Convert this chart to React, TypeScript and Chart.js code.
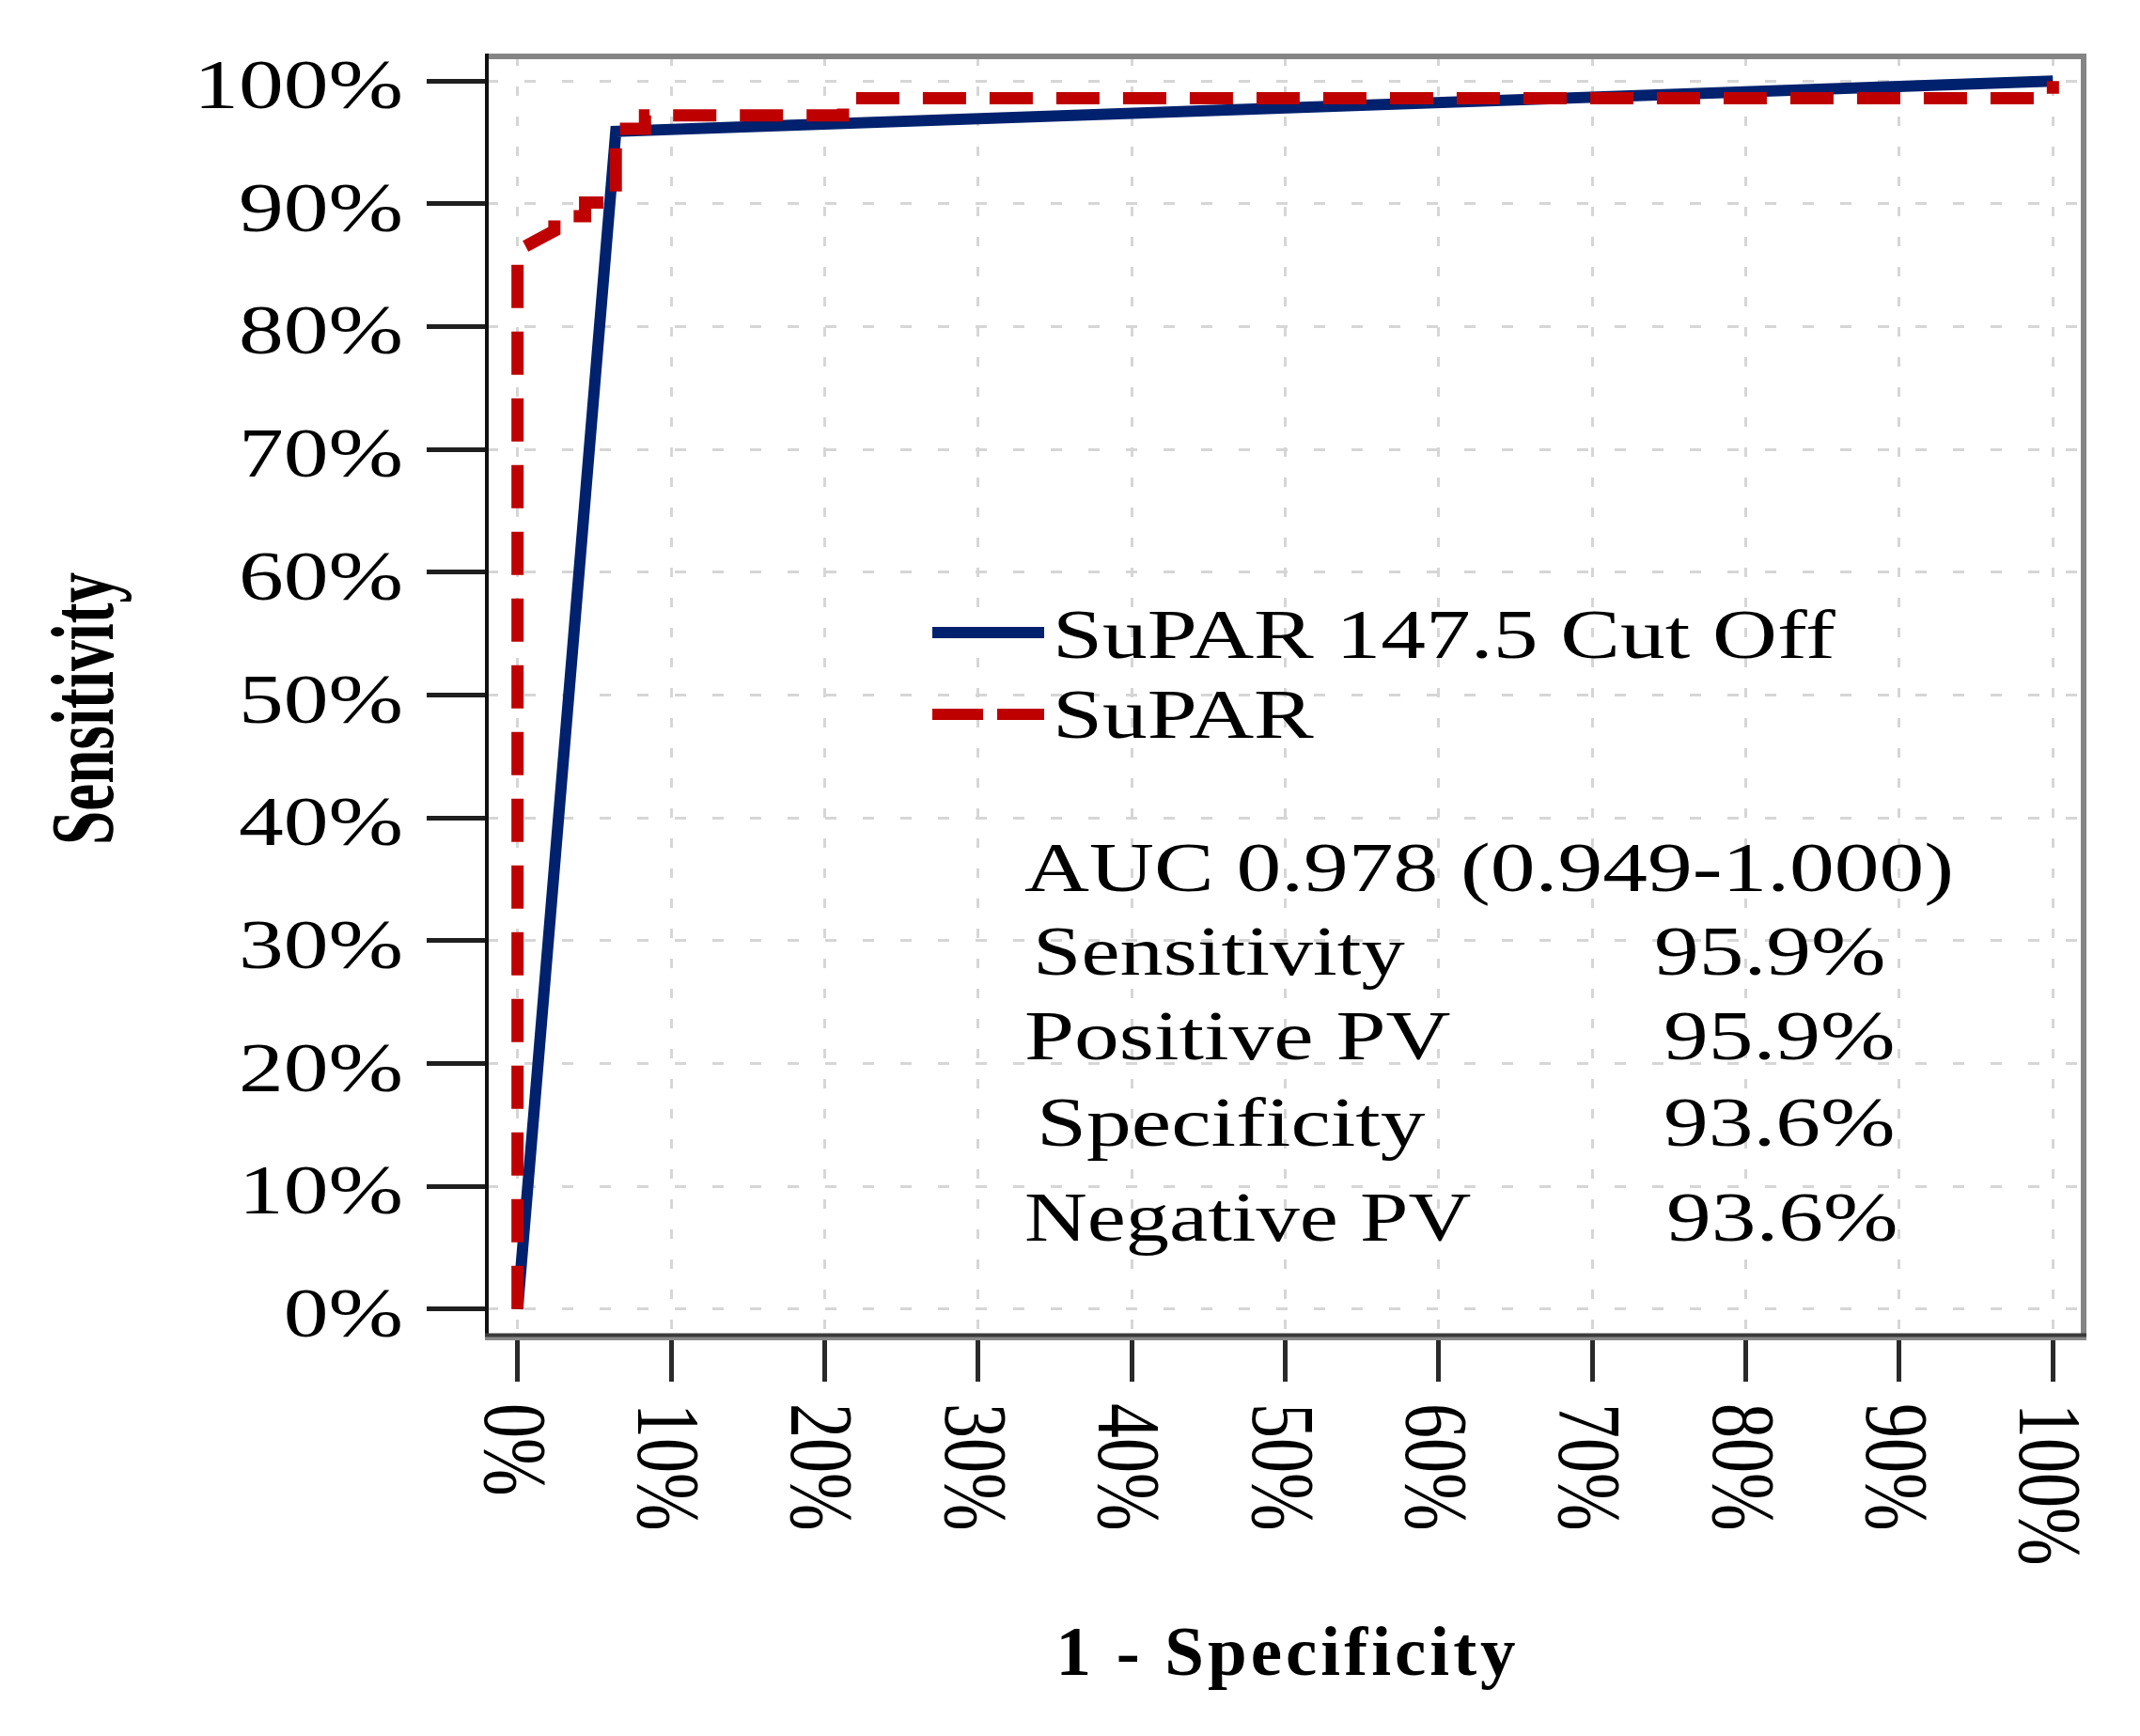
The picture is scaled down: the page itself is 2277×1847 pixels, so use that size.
import React, { useEffect, useRef } from "react";
import { Chart, registerables } from "chart.js";

Chart.register(...registerables);

// ---- data ----
const cutoffFpr = [0, 6.4, 100];
const cutoffTpr = [0, 95.9, 100];
const suparFpr = [0, 0, 2.4, 2.4, 4.4, 4.4, 6.4, 6.4, 8.3, 8.3, 21.2, 21.2, 100, 100];
const suparTpr = [0, 86.2, 87.8, 89.0, 89.0, 90.1, 90.1, 96.1, 96.1, 97.2, 97.2, 98.6, 98.6, 100];
const tickValues = [0, 10, 20, 30, 40, 50, 60, 70, 80, 90, 100];
const tickLabels = ["0%", "10%", "20%", "30%", "40%", "50%", "60%", "70%", "80%", "90%", "100%"];
const seriesNames = ["SuPAR 147.5 Cut Off", "SuPAR"];
const aucText = "AUC 0.978 (0.949-1.000)";
const statLabels = ["Sensitivity", "Positive PV", "Specificity", "Negative PV"];
const statValues = ["95.9%", "95.9%", "93.6%", "93.6%"];
const xTitle = "1 - Specificity";
const yTitle = "Sensitivity";

const BLUE = "#00216e";
const RED = "#bf0000";
const SERIF = '"Liberation Serif", "Times New Roman", serif';
const SX = 1.29;

type TextOpts = {
  font: string;
  sx?: number;
  sy?: number;
  rot?: number;
  align?: CanvasTextAlign;
  spacing?: string;
};

function drawText(ctx: CanvasRenderingContext2D, text: string, x: number, y: number, o: TextOpts) {
  ctx.save();
  ctx.translate(x, y);
  ctx.scale(o.sx ?? 1, o.sy ?? 1);
  if (o.rot) ctx.rotate(o.rot);
  ctx.font = o.font;
  ctx.textAlign = o.align ?? "left";
  ctx.textBaseline = "alphabetic";
  ctx.fillStyle = "#000";
  (ctx as any).letterSpacing = o.spacing ?? "0px";
  ctx.fillText(text, 0, 0);
  ctx.restore();
}

function line(ctx: CanvasRenderingContext2D, x1: number, y1: number, x2: number, y2: number, color: string, w: number, dash: number[] = []) {
  ctx.save();
  ctx.strokeStyle = color;
  ctx.lineWidth = w;
  ctx.setLineDash(dash);
  ctx.lineCap = "butt";
  ctx.beginPath();
  ctx.moveTo(x1, y1);
  ctx.lineTo(x2, y2);
  ctx.stroke();
  ctx.restore();
}

const decorPlugin = {
  id: "decor",
  afterDraw(chart: any) {
    const ctx: CanvasRenderingContext2D = chart.ctx;
    const { left, right, top, bottom } = chart.chartArea;
    const xs = chart.scales.x;
    const ys = chart.scales.y;

    // frame
    line(ctx, left - 2, top, right + 3, top, "#858585", 6);
    line(ctx, right, top - 3, right, bottom + 6, "#858585", 6);
    line(ctx, left, top - 3, left, bottom + 2, "#111111", 4);
    line(ctx, left - 2, bottom + 5, right + 3, bottom + 5, "#8a8a8a", 4);
    line(ctx, left - 2, bottom + 1.5, right + 3, bottom + 1.5, "#3a3a3a", 4);

    const fontReg = `74px ${SERIF}`;
    // y tick labels
    tickValues.forEach((v, i) => {
      const py = ys.getPixelForValue(v) + 29;
      drawText(ctx, tickLabels[i], 429, py, { font: fontReg, sx: SX, align: "right" });
    });
    // x tick labels (rotated clockwise)
    tickValues.forEach((v, i) => {
      const px = xs.getPixelForValue(v) - 35;
      drawText(ctx, tickLabels[i], px, 1493, { font: fontReg, sx: SX, rot: Math.PI / 2 });
    });

    // axis titles
    drawText(ctx, xTitle, 1370, 1782, { font: `bold 75px ${SERIF}`, align: "center", spacing: "4px" });
    ctx.save();
    ctx.font = `bold 68px ${SERIF}`;
    const wy = ctx.measureText(yTitle).width;
    ctx.restore();
    drawText(ctx, yTitle, 120, 754, { font: `bold 68px ${SERIF}`, sx: 1.4, sy: 290 / wy, rot: -Math.PI / 2, align: "center" });

    // legend
    line(ctx, 992, 673, 1111, 673, BLUE, 12);
    line(ctx, 992, 760, 1111, 760, RED, 12, [54, 15]);
    drawText(ctx, seriesNames[0], 1120, 700, { font: fontReg, sx: SX });
    drawText(ctx, seriesNames[1], 1120, 785, { font: fontReg, sx: SX });

    // stats block
    drawText(ctx, aucText, 1090, 948, { font: fontReg, sx: SX });
    const rowY = [1037, 1127, 1219, 1320];
    const labelX = [1099, 1090, 1103, 1090];
    const valueX = [1760, 1770, 1770, 1773];
    statLabels.forEach((s, i) => {
      drawText(ctx, s, labelX[i], rowY[i], { font: fontReg, sx: i === 0 || i === 3 ? 1.25 : SX });
      drawText(ctx, statValues[i], valueX[i], rowY[i], { font: fontReg, sx: SX });
    });
  },
};

export default function App() {
  const ref = useRef<HTMLCanvasElement | null>(null);

  useEffect(() => {
    document.body.style.margin = "0";
    document.body.style.overflow = "hidden";
    const canvas = ref.current;
    if (!canvas) return;

    const setTicks = (scale: any) => {
      scale.ticks = tickValues.map((v) => ({ value: v }));
    };

    const chart = new Chart(canvas, {
      type: "line",
      data: {
        datasets: [
          {
            label: seriesNames[0],
            data: cutoffFpr.map((x, i) => ({ x, y: cutoffTpr[i] })),
            borderColor: BLUE,
            backgroundColor: BLUE,
            borderWidth: 12,
            pointRadius: 0,
            tension: 0,
            fill: false,
            borderJoinStyle: "miter",
            order: 1,
          },
          {
            label: seriesNames[1],
            data: suparFpr.map((x, i) => ({ x, y: suparTpr[i] })),
            borderColor: RED,
            backgroundColor: RED,
            borderWidth: 13,
            borderDash: [46, 25],
            pointRadius: 0,
            tension: 0,
            fill: false,
            borderJoinStyle: "miter",
            order: 0,
          },
        ],
      },
      options: {
        responsive: false,
        devicePixelRatio: 1,
        animation: false,
        events: [],
        layout: { padding: { left: 454, right: 60, top: 60, bottom: 377 } },
        plugins: { legend: { display: false }, tooltip: { enabled: false } },
        scales: {
          x: {
            type: "linear",
            min: -2,
            max: 102,
            afterBuildTicks: setTicks,
            ticks: { display: false },
            grid: { color: "#d6d6d6", lineWidth: 3, tickColor: "#2a2a2a", tickWidth: 5, tickLength: 51 },
            border: { display: false, dash: [10, 22] },
          },
          y: {
            type: "linear",
            min: -2,
            max: 102,
            afterBuildTicks: setTicks,
            ticks: { display: false },
            grid: { color: "#d6d6d6", lineWidth: 3, tickColor: "#1f1f1f", tickWidth: 5, tickLength: 64 },
            border: { display: false, dash: [12, 28] },
          },
        },
      } as any,
      plugins: [decorPlugin],
    });

    return () => chart.destroy();
  }, []);

  return (
    <canvas
      ref={ref}
      width={2277}
      height={1847}
      style={{ display: "block", width: "2277px", height: "1847px", background: "#fff" }}
    />
  );
}
